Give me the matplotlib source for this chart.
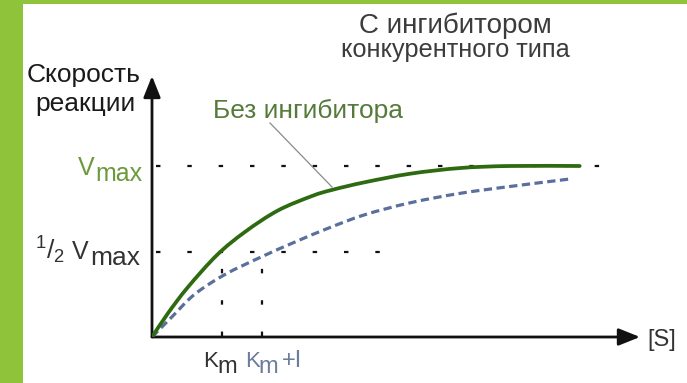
import matplotlib
matplotlib.use("Agg")
import matplotlib.pyplot as plt
from matplotlib.patches import Rectangle, PathPatch
from matplotlib.path import Path

# ---- data (S in units of Km, v in units of Vmax) ----
s_no_inhib = [0, 0.23, 0.51, 0.93, 1.33, 1.80, 2.29, 2.57, 3.04, 3.69, 4.40, 5.11, 6.11]
v_no_inhib = [0, 0.14, 0.29, 0.48, 0.615, 0.74, 0.825, 0.86, 0.905, 0.955, 0.988, 1.0, 1.0]

s_comp = [0, 0.29, 0.61, 1.04, 1.57, 2.04, 2.51, 3.04, 3.69, 4.40, 5.11, 5.97]
v_comp = [0, 0.12, 0.25, 0.365, 0.47, 0.555, 0.635, 0.715, 0.785, 0.84, 0.88, 0.924]

km = 1.0
km_plus_i = 1.57
vmax = 1.0
half_vmax = 0.5

title_lines = ["С ингибитором", "конкурентного типа"]
y_label_lines = ["Скорость", "реакции"]
no_inhib_label = "Без ингибитора"
x_label = "[S]"

# ---- figure ----
W, H = 687, 383
plt.rcParams['font.family'] = ['Liberation Sans', 'DejaVu Sans']
plt.rcParams['mathtext.fontset'] = 'custom'
plt.rcParams['mathtext.rm'] = 'Liberation Sans'
plt.rcParams['mathtext.it'] = 'Liberation Sans'

fig = plt.figure(figsize=(W / 100, H / 100), dpi=100)
fig.patch.set_facecolor('white')

def fx(px):
    return px / W

def fy(py):
    return 1 - py / H

# green frame
green = '#8fc43a'
fig.patches.append(Rectangle((0, 0), fx(23), 1, transform=fig.transFigure,
                             facecolor=green, edgecolor='none', zorder=0))
fig.patches.append(Rectangle((0, fy(4)), 1, 1 - fy(4), transform=fig.transFigure,
                             facecolor=green, edgecolor='none', zorder=0))

ox, oy = 152, 337
x_tip, y_tip = 640, 76
px_per_s = 70.0
px_per_v = 171.0
ax = fig.add_axes([fx(ox), 1 - oy / H, (x_tip - ox) / W, (oy - y_tip) / H])
xmax = (x_tip - ox) / px_per_s
ymax = (oy - y_tip) / px_per_v
ax.set_xlim(0, xmax)
ax.set_ylim(0, ymax)
ax.axis('off')

# axes with arrows
ap = dict(arrowstyle='-|>,head_length=0.65,head_width=0.26', lw=2.0, color='#111111',
          shrinkA=0, shrinkB=0, mutation_scale=20)
ax.annotate('', xy=(xmax, 0), xytext=(0, 0), arrowprops=ap, annotation_clip=False)
ax.annotate('', xy=(0, ymax), xytext=(0, 0), arrowprops=ap, annotation_clip=False)

# dotted guide lines
dot_kw = dict(color='#111111', lw=1.6, dashes=[2, 12.1], solid_capstyle='butt')
ax.plot([0.05, 6.42], [vmax, vmax], **dot_kw, zorder=2)
ax.plot([0.05, 3.33], [half_vmax, half_vmax], **dot_kw, zorder=2)
ax.plot([km, km], [0.005, half_vmax - 0.02], **dot_kw, zorder=2)
ax.plot([km_plus_i, km_plus_i], [0.005, half_vmax - 0.02], **dot_kw, zorder=2)


def smooth_path(xs, ys):
    """Catmull-Rom through the read points, drawn as cubic Bezier segments."""
    pts = list(zip(xs, ys))
    n = len(pts)
    verts = [pts[0]]
    codes = [Path.MOVETO]
    for i in range(n - 1):
        p0 = pts[i - 1] if i > 0 else pts[i]
        p1 = pts[i]
        p2 = pts[i + 1]
        p3 = pts[i + 2] if i + 2 < n else pts[i + 1]
        c1 = (p1[0] + (p2[0] - p0[0]) / 6, p1[1] + (p2[1] - p0[1]) / 6)
        c2 = (p2[0] - (p3[0] - p1[0]) / 6, p2[1] - (p3[1] - p1[1]) / 6)
        verts += [c1, c2, p2]
        codes += [Path.CURVE4] * 3
    return Path(verts, codes)


ax.add_patch(PathPatch(smooth_path(s_comp, v_comp), fill=False, edgecolor='#5a6f9c',
                       lw=2.3, linestyle=(0, (2.6, 1.4)), zorder=3, capstyle='butt'))
ax.add_patch(PathPatch(smooth_path(s_no_inhib, v_no_inhib), fill=False,
                       edgecolor='#2d6a10', lw=2.7, zorder=4, capstyle='round'))

# leader line for "Без ингибитора"
fig.add_artist(plt.Line2D([fx(270), fx(332)], [fy(123), fy(187)],
                          color='#8a8a8a', lw=0.9))

# texts
title_col = '#3c3c3c'
fig.text(fx(455), fy(33), title_lines[0], ha='center', va='baseline',
         fontsize=20, color=title_col)
fig.text(fx(455), fy(57), title_lines[1], ha='center', va='baseline',
         fontsize=18.3, color=title_col)

fig.text(fx(84), fy(82), y_label_lines[0], ha='center', va='baseline',
         fontsize=19, color='#1a1a1a')
fig.text(fx(85), fy(111), y_label_lines[1], ha='center', va='baseline',
         fontsize=19, color='#1a1a1a')

fig.text(fx(213), fy(118), no_inhib_label, ha='left', va='baseline',
         fontsize=19, color='#557a3a')


def piece(x, y, s, size, color):
    fig.text(fx(x), fy(y), s, ha='left', va='baseline', fontsize=size, color=color)


# Vmax label
vcol = '#6a9a3a'
piece(78, 175, 'V', 18, vcol)
piece(95, 181, 'max', 18, vcol)

# 1/2 Vmax label
hcol = '#333333'
piece(35, 259, r'$\mathregular{^1/_2}$', 19, hcol)
piece(72, 259, 'V', 18, hcol)
piece(90, 265, 'max', 19, hcol)

# Km and Km+I labels
piece(203, 367, 'K', 16, '#333333')
piece(217, 373, 'm', 17, '#333333')
kcol = '#6b7c9c'
piece(245, 367, 'K', 16, kcol)
piece(258, 373, 'm', 17, kcol)
piece(282, 367, '+I', 17, kcol)

fig.text(fx(647), fy(340), x_label, ha='left', va='center',
         fontsize=17, color='#333333')

fig.savefig('out.png', dpi=100, facecolor='white')
